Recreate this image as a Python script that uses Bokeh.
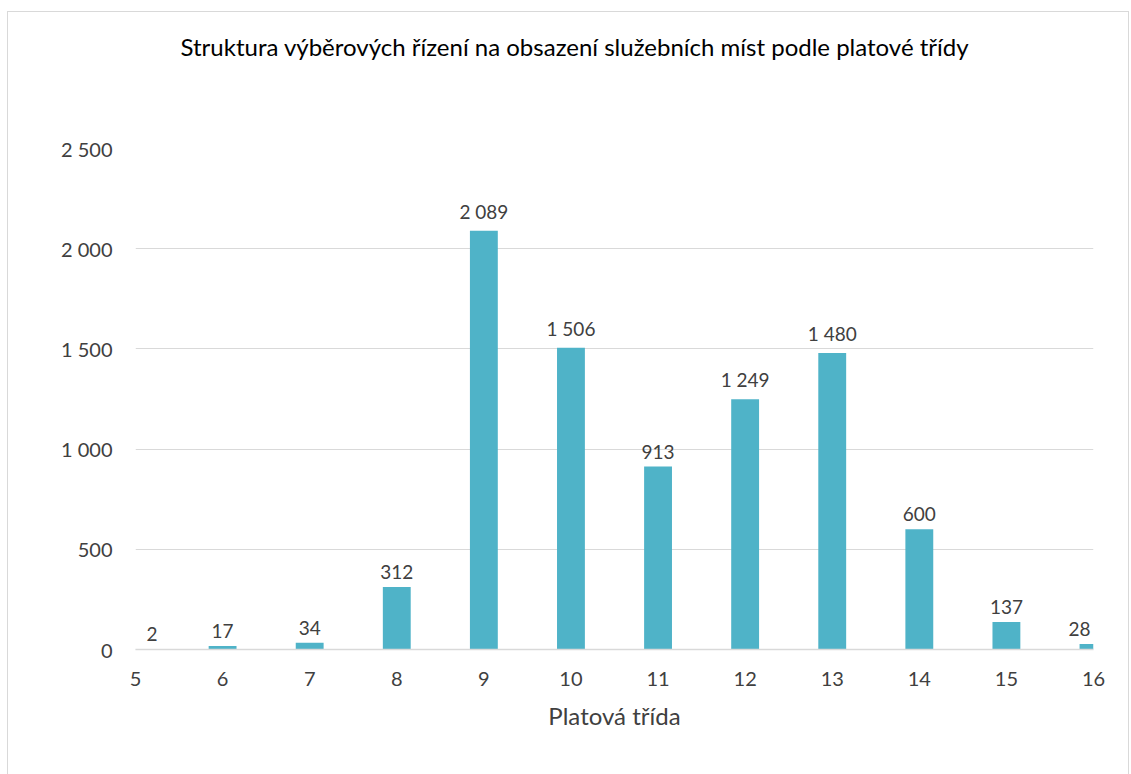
from bokeh.plotting import figure
from bokeh.models import ColumnDataSource, LabelSet, FixedTicker, Title, Range1d
from bokeh.core.properties import value
from bokeh.embed import file_html
from bokeh.resources import INLINE

# ---- data ----
classes = [5, 6, 7, 8, 9, 10, 11, 12, 13, 14, 15, 16]
counts = [2, 17, 34, 312, 2089, 1506, 913, 1249, 1480, 600, 137, 28]
y_ticks = [0, 500, 1000, 1500, 2000, 2500]
title_text = "Struktura výběrových řízení na obsazení služebních míst podle platové třídy"
x_label = "Platová třída"

FONT = "Lato"

def fmt(v):
    return f"{v:,}".replace(",", " ")

x_min, x_max = min(classes), max(classes)
# keep data labels inside the plot area (like the original chart does)
label_x = [min(max(c, x_min + 0.19), x_max - 0.16) for c in classes]

src = ColumnDataSource(dict(
    x=classes, top=counts, lx=label_x, txt=[fmt(v) for v in counts]
))

p = figure(width=1122, height=765, output_backend="svg", toolbar_location=None,
           x_range=Range1d(x_min, x_max), y_range=Range1d(0, 2500),
           min_border_left=127, min_border_right=37, min_border_top=136,
           min_border_bottom=128)
p.styles = {"border": "1px solid #d9d9d9", "margin-left": "7px", "margin-top": "11px"}
p.outline_line_color = None
p.background_fill_color = "white"
p.border_fill_color = "white"

p.vbar(x="x", top="top", width=0.32, source=src, fill_color="#4fb3c8",
       line_color=None)

labels = LabelSet(x="lx", y="top", text="txt", source=src, text_align="center",
                  text_baseline="bottom", y_offset=8, text_font=value(FONT),
                  text_font_size="19px", text_color="#404040")
p.add_layout(labels)

# spacer between frame and title, then the title itself
spacer = Title(text=" ", standoff=57, text_font=FONT, text_font_size="24px")
p.add_layout(spacer, "above")
t = Title(text=title_text, align="left", offset=45, standoff=0,
          text_font=FONT, text_font_size="24px", text_font_style="normal",
          text_color="#000000")
p.add_layout(t, "above")

# x axis
xa = p.xaxis[0]
xa.ticker = FixedTicker(ticks=classes)
xa.axis_line_color = "#d9d9d9"
xa.axis_line_width = 1.5
xa.major_tick_line_color = None
xa.minor_tick_line_color = None
xa.major_label_text_font = FONT
xa.major_label_text_font_size = "20px"
xa.major_label_text_color = "#404040"
xa.major_label_standoff = 16
xa.axis_label = x_label
xa.axis_label_text_font = FONT
xa.axis_label_text_font_size = "24px"
xa.axis_label_text_font_style = "normal"
xa.axis_label_text_color = "#404040"
xa.axis_label_standoff = 12

# y axis
ya = p.yaxis[0]
ya.ticker = FixedTicker(ticks=y_ticks)
ya.major_label_overrides = {v: fmt(v) for v in y_ticks}
ya.axis_line_color = None
ya.major_tick_line_color = None
ya.minor_tick_line_color = None
ya.major_label_text_font = FONT
ya.major_label_text_font_size = "20px"
ya.major_label_text_color = "#404040"
ya.major_label_standoff = 17

p.xgrid.grid_line_color = None
p.ygrid.grid_line_color = "#d9d9d9"
p.ygrid.grid_line_width = 1.2
p.ygrid.ticker = FixedTicker(ticks=y_ticks)

open("out.html", "w").write(file_html(p, INLINE))
